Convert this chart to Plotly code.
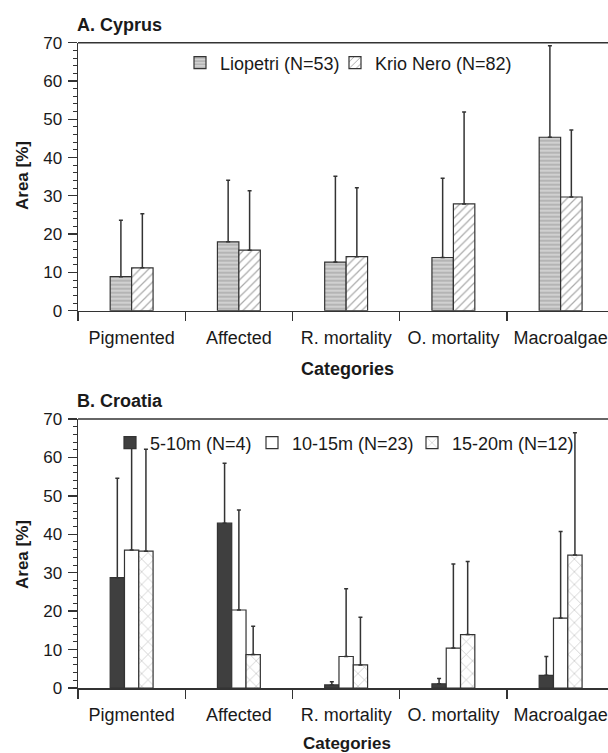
import plotly.graph_objects as go

categories = ["Pigmented", "Affected", "R. mortality", "O. mortality", "Macroalgae"]

# Panel A: Cyprus
liopetri_mean = [8.9, 18.0, 12.7, 13.9, 45.3]
liopetri_sd = [14.7, 16.1, 22.4, 20.7, 23.9]
krio_mean = [11.2, 15.8, 14.1, 27.9, 29.7]
krio_sd = [14.1, 15.5, 18.0, 24.0, 17.5]

# Panel B: Croatia
d5_mean = [28.7, 42.9, 0.8, 1.1, 3.3]
d5_sd = [25.9, 15.6, 0.8, 1.4, 4.9]
d10_mean = [35.9, 20.3, 8.2, 10.4, 18.2]
d10_sd = [26.7, 26.0, 17.6, 21.9, 22.5]
d15_mean = [35.6, 8.7, 6.0, 13.9, 34.6]
d15_sd = [26.5, 7.4, 12.4, 19.0, 31.8]

y_ticks = [0, 10, 20, 30, 40, 50, 60, 70]

W, H = 608, 753
FONT = "Liberation Sans, Arial, sans-serif"
DARK = "#333333"


def px_x(v):
    return v / W


def px_y(v):
    return 1 - v / H


def err(sd):
    return dict(type="data", symmetric=False, array=sd, arrayminus=[0] * len(sd),
                color=DARK, thickness=1.5, width=2)


line = dict(color=DARK, width=1.2)

fig = go.Figure()

fig.add_trace(go.Bar(
    x=categories, y=liopetri_mean, name="Liopetri (N=53)", xaxis="x", yaxis="y",
    legend="legend", error_y=err(liopetri_sd),
    marker=dict(color="#d0d0d0", line=line,
                pattern=dict(shape="-", fgcolor="#5e5e5e", bgcolor="#d0d0d0", size=4, solidity=0.25)),
))
fig.add_trace(go.Bar(
    x=categories, y=krio_mean, name="Krio Nero (N=82)", xaxis="x", yaxis="y",
    legend="legend2", error_y=err(krio_sd),
    marker=dict(color="white", line=line,
                pattern=dict(shape="/", fgcolor="#555555", bgcolor="white", size=6, solidity=0.2)),
))

fig.add_trace(go.Bar(
    x=categories, y=d5_mean, name="5-10m (N=4)", xaxis="x2", yaxis="y2",
    legend="legend3", error_y=err(d5_sd),
    marker=dict(color="#3f3f3f", line=line),
))
fig.add_trace(go.Bar(
    x=categories, y=d10_mean, name="10-15m (N=23)", xaxis="x2", yaxis="y2",
    legend="legend4", error_y=err(d10_sd),
    marker=dict(color="white", line=line),
))
fig.add_trace(go.Bar(
    x=categories, y=d15_mean, name="15-20m (N=12)", xaxis="x2", yaxis="y2",
    legend="legend5", error_y=err(d15_sd),
    marker=dict(color="white", line=line,
                pattern=dict(shape="x", fgcolor="#6a6a6a", bgcolor="white", size=9, solidity=0.12)),
))

xdom = [px_x(78), 1.0]
xrange = [-0.5, -0.5 + (W - 78) / 107.25]

xaxis_common = dict(
    type="category", range=xrange, tickson="boundaries", ticks="outside", ticklen=9,
    tickwidth=1.3, tickcolor=DARK, showline=True, linecolor=DARK, linewidth=1.5,
    mirror=False, showgrid=False, zeroline=False,
    tickfont=dict(family=FONT, size=18, color="#1a1a1a"), automargin=False,
    ticklabelstandoff=10,
)
yaxis_common = dict(
    range=[0, 70], tickvals=y_ticks, ticks="outside", ticklen=9, tickwidth=1.3,
    tickcolor=DARK, showline=True, linecolor=DARK, linewidth=1.5, showgrid=False,
    zeroline=False, tickfont=dict(family=FONT, size=17, color="#1a1a1a"),
    minor=dict(dtick=2, ticks="outside", ticklen=4, tickcolor=DARK, tickwidth=1, showgrid=False),
    automargin=False, ticklabelstandoff=2, mirror=False,
)


def leg(text_x, y_center):
    return dict(orientation="h", x=px_x(text_x + 3 - 41), y=px_y(y_center), xanchor="left",
                yanchor="middle", bgcolor="rgba(0,0,0,0)",
                font=dict(family=FONT, size=18, color="#1a1a1a"), itemclick=False)


fig.update_layout(
    width=W, height=H, autosize=False,
    margin=dict(l=0, r=0, t=0, b=0),
    paper_bgcolor="white", plot_bgcolor="white",
    barmode="group", bargap=0.6, bargroupgap=0,
    font=dict(family=FONT, size=17, color="#1a1a1a"),
    xaxis=dict(domain=xdom, anchor="y", **xaxis_common),
    yaxis=dict(domain=[px_y(310.7), px_y(42.7)], anchor="x", **yaxis_common),
    xaxis2=dict(domain=xdom, anchor="y2", **xaxis_common),
    yaxis2=dict(domain=[px_y(688), px_y(419)], anchor="x2", **yaxis_common),
    legend=leg(218, 63),
    legend2=leg(373, 63),
    legend3=leg(148, 443),
    legend4=leg(290, 443),
    legend5=leg(450, 443),
    showlegend=True,
    dragmode=False,
)

# top frame lines of both panels
shapes = [
    dict(type="line", xref="paper", yref="y domain", x0=px_x(78), x1=1.0, y0=1, y1=1,
         line=dict(color=DARK, width=1.5)),
    dict(type="line", xref="paper", yref="y2 domain", x0=px_x(78), x1=1.0, y0=1, y1=1,
         line=dict(color=DARK, width=1.5)),
]
fig.update_layout(shapes=shapes)

annotations = [
    dict(text="<b>A. Cyprus</b>", x=px_x(75), y=px_y(25), xanchor="left", yanchor="middle",
         font=dict(size=18)),
    dict(text="<b>B. Croatia</b>", x=px_x(75), y=px_y(401), xanchor="left", yanchor="middle",
         font=dict(size=18)),
    dict(text="<b>Area [%]</b>", x=px_x(22), y=px_y(176), textangle=-90, xanchor="center",
         yanchor="middle", font=dict(size=17)),
    dict(text="<b>Area [%]</b>", x=px_x(22), y=px_y(555), textangle=-90, xanchor="center",
         yanchor="middle", font=dict(size=17)),
    dict(text="<b>Categories</b>", x=px_x(347), y=px_y(369), xanchor="center", yanchor="middle",
         font=dict(size=18)),
    dict(text="<b>Categories</b>", x=px_x(347), y=px_y(743), xanchor="center", yanchor="middle",
         font=dict(size=17)),
]
for a in annotations:
    a.update(xref="paper", yref="paper", showarrow=False)
fig.update_layout(annotations=annotations)

fig.write_html(
    "out.html",
    config={"displayModeBar": False, "staticPlot": True},
    post_script="document.body.style.margin='0';document.body.style.overflow='hidden';",
)
